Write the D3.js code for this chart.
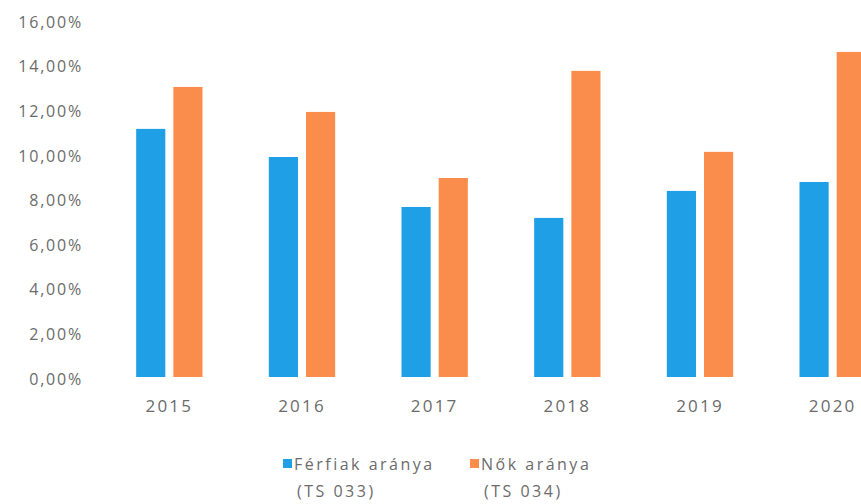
<!DOCTYPE html>
<meta charset="utf-8">
<script src="https://d3js.org/d3.v7.min.js"></script>
<style>
  body { margin: 0; background: #fff; }
  text { font-family: "Open Sans", sans-serif; fill: #6b6b6b; }
</style>
<div id="chart"></div>
<script>
// data (percent)
var years = ["2015", "2016", "2017", "2018", "2019", "2020"];
var ferfiak = [11.12, 9.86, 7.62, 7.13, 8.34, 8.74];
var nok = [13.0, 11.88, 8.92, 13.72, 10.09, 14.57];
var seriesNames = ["Férfiak aránya", "Nők aránya"];
var seriesCodes = ["(TS 033)", "(TS 034)"];
var yTicks = [0, 2, 4, 6, 8, 10, 12, 14, 16];

var colors = ["#1e9fe6", "#fa8d4c"];

var width = 861, height = 504;

var svg = d3.select("#chart")
    .append("svg")
    .attr("width", width)
    .attr("height", height);

// scales
var x0 = d3.scaleBand()
    .domain(years)
    .range([103, 899])
    .paddingInner(0.5)
    .paddingOuter(0.25);

var x1 = d3.scaleBand()
    .domain([0, 1])
    .range([0, x0.bandwidth()])
    .paddingInner(0.216);

var y = d3.scaleLinear()
    .domain([0, 16])
    .range([377, 20]);

// y axis
var yAxis = svg.append("g")
    .attr("transform", "translate(83,2)")
    .call(d3.axisLeft(y).tickValues(yTicks).tickSize(0).tickPadding(0)
        .tickFormat(function (d) { return d3.format(".2f")(d).replace(".", ",") + "%"; }));
yAxis.select(".domain").remove();
yAxis.selectAll("text")
    .style("font-size", "16px")
    .style("letter-spacing", "1.8px")
    .attr("fill", "#7a7a7a");

// x axis labels
var xAxis = svg.append("g")
    .attr("transform", "translate(0,400)")
    .call(d3.axisBottom(x0).tickSize(0).tickPadding(0));
xAxis.select(".domain").remove();
xAxis.selectAll("text")
    .style("font-size", "17px")
    .style("letter-spacing", "2.2px")
    .attr("fill", "#555");

// bars
var rows = years.map(function (yr, i) { return { year: yr, vals: [ferfiak[i], nok[i]] }; });

var groups = svg.append("g")
    .selectAll("g")
    .data(rows)
    .enter()
    .append("g")
    .attr("transform", function (d) { return "translate(" + x0(d.year) + ",0)"; });

groups.selectAll("rect")
    .data(function (d) { return d.vals.map(function (v, k) { return { k: k, v: v }; }); })
    .enter()
    .append("rect")
    .attr("x", function (d) { return x1(d.k); })
    .attr("y", function (d) { return y(d.v); })
    .attr("width", x1.bandwidth())
    .attr("height", function (d) { return y(0) - y(d.v); })
    .attr("fill", function (d) { return colors[d.k]; });

// legend
var legendX = [283, 470];
var legend = svg.append("g");
seriesNames.forEach(function (name, k) {
    legend.append("rect")
        .attr("x", legendX[k])
        .attr("y", 459)
        .attr("width", 9)
        .attr("height", 9)
        .attr("fill", colors[k]);
    legend.append("text")
        .attr("x", legendX[k] + 11)
        .attr("y", 470)
        .style("font-size", "16px")
        .style("letter-spacing", "2.5px")
        .text(name);
    legend.append("text")
        .attr("x", legendX[k] + 14)
        .attr("y", 497)
        .style("font-size", "16px")
        .style("letter-spacing", "2.5px")
        .text(seriesCodes[k]);
});
</script>
